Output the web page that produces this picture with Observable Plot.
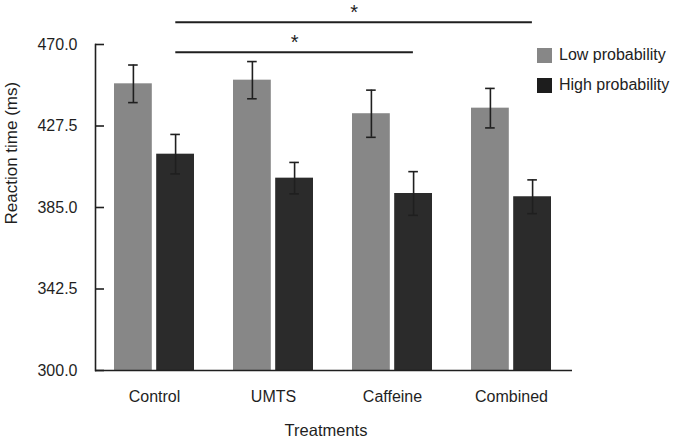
<!DOCTYPE html>
<html>
<head>
<meta charset="utf-8">
<script src="https://cdn.jsdelivr.net/npm/d3@7"></script>
<script src="https://cdn.jsdelivr.net/npm/@observablehq/plot@0.6"></script>
<style>
  html, body { margin: 0; padding: 0; background: #fff; }
  #wrap { position: relative; width: 675px; height: 443px; font-family: "Liberation Sans", Arial, sans-serif; color: #222; }
  .leg { position: absolute; left: 537px; display: flex; align-items: center; font-size: 16px; }
  .leg span.sw { display: inline-block; width: 15px; height: 15px; margin-right: 7px; }
</style>
</head>
<body>
<div id="wrap"></div>
<script>
// ---- data ----
const treatments = ["Control", "UMTS", "Caffeine", "Combined"];
const seriesNames = ["Low probability", "High probability"];
const lowMeans = [449.5, 451.4, 433.9, 436.8];
const lowErrors = [9.8, 9.7, 12.3, 10.3];
const highMeans = [412.8, 400.3, 392.3, 390.6];
const highErrors = [10.3, 8.2, 11.4, 8.8];
const yTicks = [300, 342.5, 385, 427.5, 470];
const sigFrom = ["Control", "Control"];
const sigTo = ["Caffeine", "Combined"];
const sigLevel = [466, 481.6];
const sigLabel = ["*", "*"];

// ---- styles / layout ----
const LOW = "#878787", HIGH = "#2b2b2b", INK = "#1f1f1f";
const W = 675, H = 443, ML = 95, MR = 103, MT = 44, MB = 73;
const PI = 0.325, PO = 0.165, ALIGN = 0.47;
const step = (W - ML - MR) / (treatments.length - PI + 2 * PO);
const bw = step * (1 - PI);
const gap = 4;
const barW = (bw - gap) / 2;
const off = bw / 2 - barW / 2;       // bar-centre offset from band centre
const capHalf = 5;

const low = treatments.map((t, i) => ({t, v: lowMeans[i], e: lowErrors[i]}));
const high = treatments.map((t, i) => ({t, v: highMeans[i], e: highErrors[i]}));
const sig = sigFrom.map((f, i) => ({from: f, to: sigTo[i], y: sigLevel[i], label: sigLabel[i]}));

const capInsets = (side) => side < 0
  ? {insetLeft: barW / 2 - capHalf, insetRight: bw - barW / 2 - capHalf}
  : {insetLeft: bw - barW / 2 - capHalf, insetRight: barW / 2 - capHalf};

function errorMarks(rows, side) {
  return [
    Plot.ruleX(rows, {x: "t", y1: d => d.v - d.e, y2: d => d.v + d.e, dx: side * off, stroke: INK, strokeWidth: 1.6}),
    Plot.tickY(rows, {x: "t", y: d => d.v - d.e, stroke: INK, strokeWidth: 1.6, ...capInsets(side)}),
    Plot.tickY(rows, {x: "t", y: d => d.v + d.e, stroke: INK, strokeWidth: 1.6, ...capInsets(side)})
  ];
}

const sigMarks = sig.flatMap(s => {
  const span = treatments.indexOf(s.to) - treatments.indexOf(s.from);
  return [
    Plot.ruleY([s], {y: "y", x1: "from", x2: "to", insetLeft: bw - barW / 2, insetRight: barW / 2, stroke: INK, strokeWidth: 2}),
    Plot.text([s], {x: "from", y: "y", text: "label", dx: off + span * step / 2, dy: -3.5, lineAnchor: "bottom", fontSize: 20, fill: INK})
  ];
});

const plot = Plot.plot({
  width: W, height: H,
  marginLeft: ML, marginRight: MR, marginTop: MT, marginBottom: MB,
  style: {fontFamily: "Liberation Sans, Arial, sans-serif", fontSize: "16px", color: INK, background: "#fff"},
  x: {type: "band", domain: treatments, paddingInner: PI, paddingOuter: PO, align: ALIGN},
  y: {domain: [300, 470]},
  marks: [
    Plot.barY(low, {x: "t", y1: 300, y2: "v", fill: LOW, insetRight: bw - barW}),
    Plot.barY(high, {x: "t", y1: 300, y2: "v", fill: HIGH, insetLeft: bw - barW}),
    ...errorMarks(low, -1),
    ...errorMarks(high, 1),
    Plot.axisY({ticks: yTicks, tickFormat: d3.format(".1f"), tickSize: 0, tickPadding: 18, label: null, fontSize: 16}),
    Plot.tickY(yTicks, {y: d => d, insetRight: (W - ML - MR) - 9, stroke: INK, strokeWidth: 1.6}),
    Plot.axisX({tickSize: 0, tickPadding: 20, label: null, fontSize: 16}),
    Plot.ruleY([300], {stroke: INK, strokeWidth: 1.6}),
    Plot.frame({anchor: "left", stroke: INK, strokeWidth: 1.6}),
    Plot.text(["Reaction time (ms)"], {frameAnchor: "left", rotate: -90, dx: -84, dy: 17, fontSize: 17, fill: INK}),
    Plot.text(["Treatments"], {frameAnchor: "bottom", dy: 65, dx: -8, fontSize: 16.5, fill: INK}),
    ...sigMarks
  ]
});

const wrap = document.getElementById("wrap");
wrap.appendChild(plot);
const legColors = [LOW, "#1d1d1d"];
const legTops = [47, 77];
seriesNames.forEach((name, i) => {
  const d = document.createElement("div");
  d.className = "leg";
  d.style.top = (legTops[i] - 1) + "px";
  d.innerHTML = `<span class="sw" style="background:${legColors[i]}"></span><span>${name}</span>`;
  wrap.appendChild(d);
});
</script>
</body>
</html>
